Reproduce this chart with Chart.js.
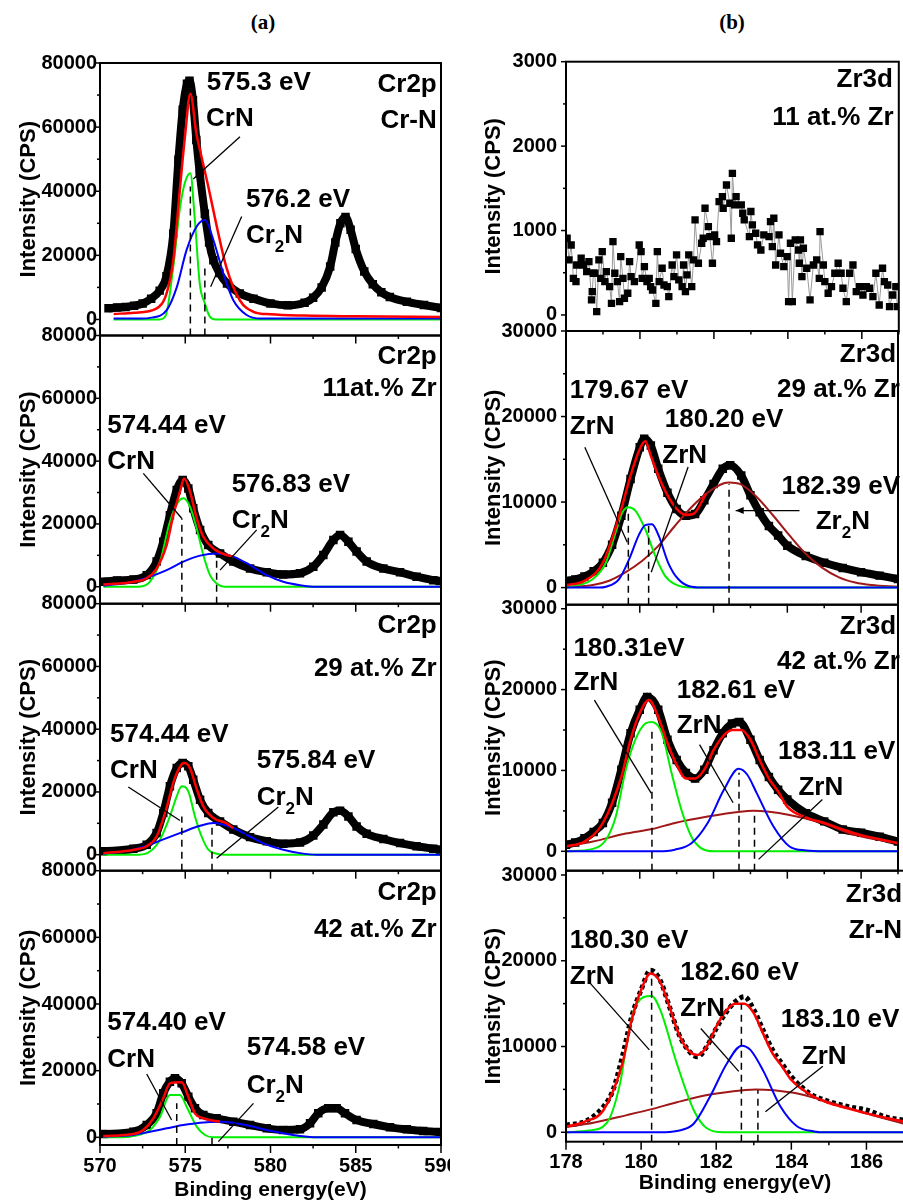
<!DOCTYPE html>
<html lang="en">
<head>
<meta charset="UTF-8">
<title>Cr2p / Zr3d XPS spectra</title>
<script src="https://cdn.jsdelivr.net/npm/chart.js"></script>
<style>
  body { margin: 0; background: #fff; }
  #page { position: relative; width: 903px; height: 1203px; overflow: hidden; background: #fff; }
  canvas { position: absolute; top: 0; }
  .cap { position: absolute; top: 10px; width: 60px; text-align: center; line-height: 26px;
         font: bold 21px "Liberation Serif", "Times New Roman", serif; }
</style>
</head>
<body>
<div id="page">
  <div class="cap" style="left:233px">(a)</div>
  <div class="cap" style="left:702px">(b)</div>
  <canvas id="a1" width="450" height="1203" style="left:0"></canvas>
  <canvas id="a2" width="450" height="1203" style="left:0"></canvas>
  <canvas id="a3" width="450" height="1203" style="left:0"></canvas>
  <canvas id="a4" width="450" height="1203" style="left:0"></canvas>
  <canvas id="b1" width="444" height="1203" style="left:460px"></canvas>
  <canvas id="b2" width="444" height="1203" style="left:460px"></canvas>
  <canvas id="b3" width="444" height="1203" style="left:460px"></canvas>
  <canvas id="b4" width="444" height="1203" style="left:460px"></canvas>
</div>

<script>
// tick labels
const leftXTicks = [570, 575, 580, 585, 590];
const rightXTicks = [178, 180, 182, 184, 186];
const crYTicks = [0, 20000, 40000, 60000, 80000];
const zr1YTicks = [0, 1000, 2000, 3000];
const zrYTicks = [0, 10000, 20000, 30000];

// ---- Cr2p, column (a): [binding energy eV, CPS] ----
const a1Data = [[570.5,3500],[571,3700],[571.5,3900],[572,4300],[572.5,5000],[573,6500],[573.5,9000],[573.9,13500],[574.3,26800],[574.6,49800],[574.85,65400],[575.1,73500],[575.25,74500],[575.45,68500],[575.65,56000],[575.85,45600],[576.15,33000],[576.4,24000],[576.65,18500],[577,14500],[577.45,11200],[578.2,8100],[579,6500],[580,5000],[581,4400],[582,5200],[582.5,6800],[583,10000],[583.5,16500],[583.8,24000],[584.1,30000],[584.4,32000],[584.7,28000],[585,22000],[585.5,15000],[586,11000],[586.5,8500],[587,7000],[588,5500],[589,4500],[590,3600]];
const a1Fit = [[570.8,1700],[572,2100],[573.3,3400],[573.9,8100],[574.3,18500],[574.7,41500],[575,58000],[575.3,70400],[575.65,58100],[575.95,50800],[576.35,41500],[576.85,29000],[577.4,16500],[578.2,6000],[579,2400],[580,1600],[582,1200],[585,1000],[590,800]];
const a1CrN = [[570.8,0],[573.5,0],[573.85,1200],[574.3,16500],[574.7,35200],[575,43000],[575.3,45600],[575.55,32000],[575.85,11200],[576.15,5000],[576.45,800],[576.8,0],[590,0]];
const a1Cr2N = [[570.8,300],[572.5,300],[572.93,500],[573.91,2900],[574.5,10000],[575.08,21700],[575.67,29000],[576.16,31000],[576.65,24800],[577.23,14400],[577.82,6000],[578.6,1400],[579.4,300],[590,300]];

const a2Data = [[570.2,1600],[571,2000],[571.96,2300],[572.74,3700],[573.32,8000],[573.71,14300],[574.1,22800],[574.5,30800],[574.85,34000],[575.18,31300],[575.47,25000],[575.87,18100],[576.35,13300],[577.04,10600],[577.82,8000],[578.8,5800],[579.78,4600],[580.75,3900],[581.73,4300],[582.51,6400],[583.1,10100],[583.69,14900],[584.08,16500],[584.57,14300],[585.05,11200],[585.64,8000],[586.62,5800],[587.6,4600],[588.57,3200],[589.55,2100],[589.94,1800]];
const a2Fit = [[570.2,700],[572,1600],[572.74,2700],[573.32,5800],[573.91,13300],[574.3,22800],[574.69,30300],[574.93,34500],[575.28,30300],[575.67,21800],[576.06,15900],[576.65,12200],[577.43,10100],[577.82,9600]];
const a2CrN = [[570.2,0],[572.3,0],[572.93,1600],[573.52,8000],[574.1,20700],[574.59,27100],[574.89,28200],[575.28,25500],[575.67,18600],[576.06,10100],[576.45,3700],[576.84,1000],[577.3,0],[590,0]];
const a2Cr2N = [[570.2,300],[571.96,1600],[572.93,3200],[573.91,5300],[574.89,8000],[575.87,9900],[576.84,10600],[577.82,9600],[578.8,6900],[579.78,3700],[580.75,1600],[581.73,500],[582.71,0],[590,0]];

const a3Data = [[570.2,1100],[571.96,1900],[572.74,3200],[573.32,6900],[573.71,13300],[574.1,21800],[574.5,27600],[574.85,29200],[575.18,28200],[575.47,23900],[575.87,17500],[576.35,13300],[577.04,10600],[577.82,8000],[578.8,5600],[579.78,4300],[580.75,3500],[581.73,3900],[582.51,6100],[583.1,9600],[583.69,13500],[584.08,14000],[584.57,12200],[585.05,9000],[585.64,6700],[586.62,5000],[587.6,3700],[588.57,2700],[589.55,1900],[589.94,1600]];
const a3Fit = [[570.2,500],[572,1600],[572.74,2700],[573.32,5800],[573.91,15000],[574.3,23000],[574.69,28000],[574.93,29200],[575.28,27600],[575.67,21000],[576.06,15400],[576.65,11700],[577.43,10000],[577.82,8500]];
const a3CrN = [[570.2,0],[572.3,0],[572.93,1000],[573.52,4800],[574.1,12200],[574.5,18600],[574.79,21800],[575.18,20200],[575.57,12200],[575.96,5800],[576.35,1600],[576.84,300],[577.4,0],[590,0]];
const a3Cr2N = [[570.2,300],[571.96,1600],[572.93,3200],[573.91,5300],[574.79,7100],[575.87,9200],[576.65,10100],[577.82,8500],[578.8,5800],[579.78,3200],[580.75,1600],[581.73,500],[582.71,0],[590,0]];

const a4Data = [[570.2,1000],[571.96,1700],[572.74,3700],[573.32,7200],[573.71,13200],[574.1,16700],[574.4,17700],[574.79,16200],[575.18,12200],[575.57,8700],[576.06,6700],[576.84,5700],[577.82,4700],[578.8,3700],[579.78,2700],[580.75,2200],[581.73,2400],[582.32,4200],[582.8,7200],[583.39,8700],[583.88,8700],[584.37,7200],[585.05,5200],[586.03,4000],[587.01,3000],[587.99,2400],[588.96,1900],[589.94,1600]];
const a4Fit = [[570.2,400],[571.96,1000],[572.54,2200],[573.13,5700],[573.71,11700],[574.1,16200],[574.79,16500],[575.18,12200],[575.57,7200],[575.96,5900],[576.65,5000],[577.04,4700]];
const a4CrN = [[570.2,0],[571.3,0],[571.96,400],[572.93,2200],[573.52,6200],[574.1,12700],[574.69,12700],[575.08,9200],[575.67,3200],[576.16,700],[576.65,0],[590,0]];
const a4Cr2N = [[570.2,200],[571.96,700],[572.93,1700],[573.91,2700],[574.89,3700],[575.87,4400],[577.04,4700],[577.82,4400],[578.8,3400],[579.78,2200],[580.75,1200],[581.73,400],[582.71,0],[590,0]];

// ---- Zr3d, column (b) ----
const b1Data = [[178.03,909],[178.08,652],[178.14,829],[178.2,434],[178.27,395],[178.29,592],[178.41,672],[178.47,592],[178.56,513],[178.62,632],[178.69,178],[178.71,276],[178.74,494],[178.78,494],[178.83,40],[178.89,652],[178.94,434],[178.98,750],[179.05,395],[179.09,513],[179.18,336],[179.23,138],[179.27,869],[179.32,494],[179.39,395],[179.45,158],[179.48,691],[179.54,434],[179.58,198],[179.67,257],[179.72,632],[179.76,454],[179.85,395],[179.98,829],[180.03,750],[180.06,434],[180.12,573],[180.19,395],[180.25,434],[180.29,336],[180.34,296],[180.43,138],[180.47,750],[180.52,395],[180.6,553],[180.65,355],[180.74,336],[180.78,217],[180.87,592],[180.92,454],[180.99,711],[181.05,415],[181.14,336],[181.18,592],[181.23,276],[181.27,474],[181.32,711],[181.4,336],[181.45,652],[181.49,1126],[181.58,612],[181.67,849],[181.71,909],[181.76,1264],[181.85,1047],[181.89,928],[181.96,612],[182.02,948],[182.07,869],[182.14,1343],[182.23,1402],[182.25,1264],[182.34,1540],[182.43,1323],[182.47,909],[182.5,1678],[182.56,1304],[182.6,1402],[182.74,1304],[182.78,1205],[182.82,1126],[182.96,928],[183,1225],[183.04,1067],[183.13,968],[183.18,830],[183.27,770],[183.35,948],[183.49,928],[183.53,1106],[183.58,810],[183.62,1146],[183.67,592],[183.76,948],[183.8,731],[183.89,573],[183.98,691],[184.02,158],[184.07,849],[184.12,158],[184.2,889],[184.29,770],[184.31,612],[184.34,889],[184.38,454],[184.42,790],[184.51,553],[184.6,178],[184.69,592],[184.78,652],[184.85,434],[184.87,988],[184.96,592],[185,395],[185.09,257],[185.18,336],[185.27,494],[185.36,612],[185.44,494],[185.49,316],[185.58,158],[185.67,494],[185.76,592],[185.85,276],[185.94,336],[186.03,237],[186.12,336],[186.21,316],[186.3,217],[186.38,494],[186.47,118],[186.56,553],[186.61,395],[186.7,355],[186.75,99],[186.83,237],[186.92,336],[186.96,99]];

const b2Data = [[178,780],[178.25,950],[178.5,1300],[178.75,1900],[179,2900],[179.25,5000],[179.5,8400],[179.75,12700],[180,16400],[180.12,17400],[180.3,16600],[180.5,13900],[180.75,11100],[181,9200],[181.25,8400],[181.5,8600],[181.75,10200],[182,12100],[182.25,13900],[182.45,14300],[182.75,13100],[183,10800],[183.25,8800],[183.5,7200],[183.75,6100],[184,4900],[184.5,3700],[185,2900],[185.5,2300],[186,1800],[186.5,1400],[187,1000]];
const b2Fit = [[178,270],[178.5,780],[179,2900],[179.5,9200],[179.75,13100],[180,16200],[180.15,17100],[180.3,15400],[180.5,13100],[180.75,10800],[181,9200],[181.25,8500],[181.45,8600],[181.8,11000]];
const b2ZrN = [[178,0],[178.11,100],[178.73,1000],[179.08,2900],[179.35,6500],[179.53,8800],[179.69,9400],[179.88,9000],[180.15,6800],[180.42,3700],[180.68,1400],[180.95,400],[181.4,0],[187,0]];
const b2ZrNb = [[178,0],[178.9,0],[179.08,100],[179.44,1000],[179.71,3300],[179.97,6100],[180.15,7300],[180.33,7400],[180.51,6100],[180.77,2900],[181.04,1000],[181.4,100],[181.8,0],[187,0]];
const b2Zr2N = [[178,50],[178.73,300],[179.17,800],[179.62,1800],[180.06,3100],[180.51,4900],[180.95,7200],[181.4,9400],[181.84,11100],[182.28,12200],[182.42,12300],[182.73,12100],[183.17,10600],[183.62,8400],[184.06,6100],[184.51,3900],[184.95,2300],[185.4,1200],[185.84,600],[186.28,300],[187,100]];

const b3Data = [[178,800],[178.25,1100],[178.5,1600],[178.75,2400],[179,3500],[179.25,6000],[179.5,10100],[179.75,14600],[180,17500],[180.2,19100],[180.5,17500],[180.75,13800],[181,11300],[181.25,9700],[181.5,9000],[181.75,10100],[182,12500],[182.25,14600],[182.5,15800],[182.7,16000],[183,13800],[183.25,11300],[183.5,9200],[183.75,7600],[184,6400],[184.5,4700],[185,3700],[185.5,2700],[186,2300],[186.5,1800],[187,1200]];
const b3Fit = [[178,600],[178.5,1200],[179,3500],[179.5,9200],[179.75,13800],[180,17100],[180.25,18700],[180.5,16600],[180.75,13400],[181,10700],[181.25,9000],[181.5,9000],[181.75,10100],[182,12500],[182.25,14200],[182.5,15000],[182.75,15000],[183,13800],[183.25,11300],[183.5,9000],[183.75,7400],[184,5500],[184.5,4200],[185,3500],[185.5,2700],[186,2000],[186.5,1500],[187,1000]];
const b3ZrN = [[178,0],[178.73,300],[179.08,1400],[179.35,4300],[179.62,10100],[179.88,13800],[180.15,15800],[180.33,16000],[180.6,14600],[180.86,9700],[181.13,5100],[181.4,1800],[181.66,400],[182.02,0],[187,0]];
const b3ZrNb = [[178,0],[180.5,0],[180.95,200],[181.4,1000],[181.84,3500],[182.28,7600],[182.68,10200],[182.91,9500],[183.17,7200],[183.62,3100],[184.06,600],[184.51,100],[185,0],[187,0]];
const b3ZrNc = [[178,600],[178.73,1200],[179.62,2200],[180.33,2750],[180.95,3500],[181.84,4300],[182.73,4900],[183.08,5000],[184.06,4500],[184.95,3500],[185.84,2000],[187,1000]];

const b4Data = [[178,850],[178.5,1250],[179,3000],[179.25,4900],[179.5,8800],[179.75,13500],[180,16600],[180.25,18900],[180.5,17800],[180.75,14700],[181,11500],[181.25,9600],[181.5,8800],[181.75,10000],[182,12100],[182.25,13900],[182.5,15200],[182.75,15800],[183,14300],[183.25,11900],[183.5,9600],[183.75,8000],[184,6500],[184.5,4500],[185,3600],[185.5,3000],[186,2600],[186.5,1800],[187,1400]];
const b4Fit = [[178,650],[178.5,1250],[179,2600],[179.5,8000],[179.75,13100],[180,16600],[180.25,18500],[180.5,17600],[180.75,14700],[181,11500],[181.25,9600],[181.5,9000],[181.75,10000],[182,12300],[182.25,14100],[182.5,15000],[182.75,15000],[183,13900],[183.25,11500],[183.5,9200],[183.75,7700],[184,6100],[184.5,4400],[185,3400],[185.5,2800],[186,2200],[186.5,1700],[187,1250]];
const b4ZrN = [[178,0],[178.6,200],[179.08,1050],[179.44,5700],[179.62,10400],[179.84,14650],[180.28,15900],[180.51,14260],[180.95,8040],[181.4,2600],[181.75,470],[182.2,0],[187,0]];
const b4ZrNb = [[178,0],[180.5,0],[180.95,150],[181.4,1000],[181.84,4200],[182.28,8000],[182.68,10100],[182.91,9600],[183.26,7100],[183.71,3000],[184.15,700],[184.6,100],[184.95,0],[187,0]];
const b4ZrNc = [[178,600],[178.73,1100],[179.62,2000],[180.28,2700],[180.95,3500],[181.84,4400],[182.73,4900],[183.04,5000],[184.06,4600],[184.95,3600],[185.84,2400],[187,1000]];

// annotations in data coordinates: [text, eV, CPS, align]  ("_2" = subscript 2)
const a1Notes = [['575.3 eV',576.26,71500,'left'],['CrN',576.22,60200,'left'],['576.2 eV',578.56,35200,'left'],['Cr_2N',578.56,24000,'left'],['Cr2p',589.75,71100,'right'],['Cr-N',589.75,59700,'right']];
const a2Notes = [['Cr2p',589.75,70900,'right'],['11at.% Zr',589.75,60600,'right'],['574.44 eV',570.43,48900,'left'],['CrN',570.43,37500,'left'],['576.83 eV',577.72,30300,'left'],['Cr_2N',577.72,18800,'left']];
const a3Notes = [['Cr2p',589.75,70700,'right'],['29 at.% Zr',589.75,56900,'right'],['574.44 eV',570.59,35800,'left'],['CrN',570.59,24400,'left'],['575.84 eV',579.19,27600,'left'],['Cr_2N',579.19,15900,'left']];
const a4Notes = [['Cr2p',589.75,71200,'right'],['42 at.% Zr',589.75,60000,'right'],['574.40 eV',570.43,32200,'left'],['CrN',570.43,21000,'left'],['574.58 eV',578.6,24700,'left'],['Cr_2N',578.6,13400,'left']];
const b1Notes = [['Zr3d',186.84,2700,'right'],['11 at.% Zr',186.86,2250,'right']];
const b2Notes = [['Zr3d',186.95,26400,'right'],['29 at.% Zr',187.05,22300,'right'],['179.67 eV',178.1,22200,'left'],['ZrN',178.1,18000,'left'],['180.20 eV',180.68,18800,'left'],['ZrN',180.61,14600,'left'],['182.39 eV',183.84,10950,'left'],['Zr_2N',184.77,6800,'left']];
const b3Notes = [['Zr3d',186.95,26900,'right'],['42 at.% Zr',187.05,22500,'right'],['180.31eV',178.2,24100,'left'],['ZrN',178.2,19900,'left'],['182.61 eV',181.0,18900,'left'],['ZrN',181.0,14600,'left'],['183.11 eV',183.75,11400,'left'],['ZrN',184.3,7000,'left']];
const b4Notes = [['Zr3d',186.95,26900,'right'],['Zr-N',186.95,22600,'right'],['180.30 eV',178.1,21500,'left'],['ZrN',178.1,17300,'left'],['182.60 eV',181.04,17800,'left'],['ZrN',181.04,13500,'left'],['183.10 eV',183.72,12300,'left'],['ZrN',184.28,8000,'left']];

// leader lines [eV1, CPS1, eV2, CPS2] and dashed peak markers [eV, top CPS]
const a1Leaders = [[578.21,57000,575.47,43800],[578.31,32100,576.49,10200]];
const a2Leaders = [[572.54,36100,574.79,21800],[579.19,18100,577.04,5300]];
const a3Leaders = [[571.66,21600,574.69,10900],[580.46,15200,576.84,-1100]];
const a4Leaders = [[572.74,19000,574.2,5200],[579,10200,576.94,-1300]];
const b2Leaders = [[178.51,16400,179.66,5300],[181.31,14100,180.31,1800]];
const b3Leaders = [[178.77,18700,180.31,7200],[181.62,13200,182.53,6000],[184.95,6400,183.22,-1000]];
const b4Leaders = [[178.6,17600,180.22,9600],[181.59,12100,182.6,7100],[184.84,7700,183.31,2400]];
const b2Arrows = [[184.33,9000,182.6,9000]];
const a1Drops = [[575.3,41500],[576.15,16500]];
const a2Drops = [[574.8,21800],[576.84,10100]];
const a3Drops = [[574.8,12200],[576.57,9000]];
const a4Drops = [[574.5,10200],[576.57,700]];
const b2Drops = [[179.69,8800],[180.24,7200],[182.42,12100]];
const b3Drops = [[180.33,15400],[182.69,9700],[183.11,4700]];
const b4Drops = [[180.28,18100],[182.67,15000],[183.11,4900]];

const FONT = '"Liberation Sans", Arial, Helvetica, sans-serif';
const GREEN = '#00ee00', BLUE = '#0000ff', RED = '#ff0000', BROWN = '#a01818';

const cols = {
  a: { padL: 16, yW: 84, padR: 9, xMin: 570, xMax: 590, xMinor: 2.5, xMajor: 5, xTicks: leftXTicks, yPad: 3, xTitlePad: 0 },
  b: { padL: 21, yW: 85, padR: 0, xMin: 178, xMax: 187, xMinor: 1, xMajor: 2, xTicks: rightXTicks, yPad: 9, xTitlePad: 4 }
};

const panels = [
  { id: 'a1', col: 'a', top: 63, bottom: 335.5, yMin: -5000, yMax: 80000, yTicks: crYTicks, yMinor: 10000, yMajor: 20000,
    data: a1Data, fit: a1Fit, comps: [[a1CrN, GREEN], [a1Cr2N, BLUE]], notes: a1Notes, leaders: a1Leaders, drops: a1Drops },
  { id: 'a2', col: 'a', top: 335.5, bottom: 603.7, yMin: -5400, yMax: 80000, yTicks: crYTicks, yMinor: 10000, yMajor: 20000,
    data: a2Data, fit: a2Fit, comps: [[a2CrN, GREEN], [a2Cr2N, BLUE]], notes: a2Notes, leaders: a2Leaders, drops: a2Drops },
  { id: 'a3', col: 'a', top: 603.7, bottom: 870.7, yMin: -5100, yMax: 80000, yTicks: crYTicks, yMinor: 10000, yMajor: 20000,
    data: a3Data, fit: a3Fit, comps: [[a3CrN, GREEN], [a3Cr2N, BLUE]], notes: a3Notes, leaders: a3Leaders, drops: a3Drops },
  { id: 'a4', col: 'a', top: 870.7, bottom: 1145, yMin: -2300, yMax: 80000, yTicks: crYTicks, yMinor: 10000, yMajor: 20000, last: true,
    data: a4Data, fit: a4Fit, comps: [[a4CrN, GREEN], [a4Cr2N, BLUE]], notes: a4Notes, leaders: a4Leaders, drops: a4Drops },
  { id: 'b1', col: 'b', top: 61.7, bottom: 331, yMin: -190, yMax: 3000, yTicks: zr1YTicks, yMinor: 500, yMajor: 1000, scatter: true,
    data: b1Data, fit: null, comps: [], notes: b1Notes, leaders: [], drops: [] },
  { id: 'b2', col: 'b', top: 331, bottom: 604.7, yMin: -2000, yMax: 30000, yTicks: zrYTicks, yMinor: 5000, yMajor: 10000,
    data: b2Data, fit: b2Fit, comps: [[b2Zr2N, BROWN], [b2ZrN, GREEN], [b2ZrNb, BLUE]], notes: b2Notes, leaders: b2Leaders, drops: b2Drops, arrows: b2Arrows },
  { id: 'b3', col: 'b', top: 604.7, bottom: 870.7, yMin: -2400, yMax: 30500, yTicks: zrYTicks, yMinor: 5000, yMajor: 10000,
    data: b3Data, fit: b3Fit, comps: [[b3ZrNc, BROWN], [b3ZrN, GREEN], [b3ZrNb, BLUE]], notes: b3Notes, leaders: b3Leaders, drops: b3Drops },
  { id: 'b4', col: 'b', top: 870.7, bottom: 1141.7, yMin: -1100, yMax: 30500, yTicks: zrYTicks, yMinor: 5000, yMajor: 10000, last: true, dotted: true,
    data: b4Data, fit: b4Fit, comps: [[b4ZrNc, BROWN], [b4ZrN, GREEN], [b4ZrNb, BLUE]], notes: b4Notes, leaders: b4Leaders, drops: b4Drops }
];

const XAXIS_H = 58;
const pts = arr => arr.map(([x, y]) => ({ x, y }));

function drawNote(ctx, text, x, y, align) {
  const big = 'bold 26px ' + FONT, small = 'bold 17px ' + FONT;
  const parts = text.split('_2');
  let total = 0;
  parts.forEach((p, i) => {
    ctx.font = big; total += ctx.measureText(p).width;
    if (i < parts.length - 1) { ctx.font = small; total += ctx.measureText('2').width; }
  });
  let cx = align === 'right' ? x - total : x;
  ctx.textAlign = 'left';
  ctx.textBaseline = 'alphabetic';
  parts.forEach((p, i) => {
    ctx.font = big; ctx.fillText(p, cx, y); cx += ctx.measureText(p).width;
    if (i < parts.length - 1) { ctx.font = small; ctx.fillText('2', cx, y + 9); cx += ctx.measureText('2').width; }
  });
}

function decor(p, col) {
  return {
    id: 'decor',
    afterDraw(chart) {
      const { ctx, chartArea: a, scales: { x, y } } = chart;
      ctx.save();
      ctx.strokeStyle = '#000';
      ctx.fillStyle = '#000';
      // dashed peak markers
      ctx.lineWidth = 1.5;
      ctx.setLineDash([7, 5]);
      p.drops.forEach(([e, v]) => {
        const px = x.getPixelForValue(e);
        ctx.beginPath(); ctx.moveTo(px, a.bottom); ctx.lineTo(px, y.getPixelForValue(v)); ctx.stroke();
      });
      ctx.setLineDash([]);
      // leader lines
      ctx.lineWidth = 1.3;
      p.leaders.forEach(([e1, v1, e2, v2]) => {
        ctx.beginPath();
        ctx.moveTo(x.getPixelForValue(e1), y.getPixelForValue(v1));
        ctx.lineTo(x.getPixelForValue(e2), y.getPixelForValue(v2));
        ctx.stroke();
      });
      (p.arrows || []).forEach(([e1, v1, e2, v2]) => {
        const x1 = x.getPixelForValue(e1), y1 = y.getPixelForValue(v1);
        const x2 = x.getPixelForValue(e2), y2 = y.getPixelForValue(v2);
        ctx.beginPath(); ctx.moveTo(x1, y1); ctx.lineTo(x2, y2); ctx.stroke();
        ctx.beginPath(); ctx.moveTo(x2, y2); ctx.lineTo(x2 + 8, y2 - 3.5); ctx.lineTo(x2 + 8, y2 + 3.5); ctx.closePath(); ctx.fill();
      });
      // frame
      ctx.lineWidth = 2;
      ctx.strokeRect(a.left, a.top, a.right - a.left, a.bottom - a.top);
      // y ticks (outward, left)
      ctx.lineWidth = 1.5;
      for (let v = Math.ceil(p.yMin / p.yMinor) * p.yMinor; v <= p.yMax + 1e-6; v += p.yMinor) {
        const py = y.getPixelForValue(v);
        const len = Math.abs(v % p.yMajor) < 1e-6 ? 5 : 3;
        ctx.beginPath(); ctx.moveTo(a.left - len, py); ctx.lineTo(a.left, py); ctx.stroke();
      }
      // x ticks (outward, bottom)
      for (let e = col.xMin; e <= col.xMax + 1e-9; e += col.xMinor) {
        const px = x.getPixelForValue(e);
        const r = (e - col.xMin) / col.xMajor;
        const len = Math.abs(r - Math.round(r)) < 1e-6 ? 8 : 3.5;
        ctx.beginPath(); ctx.moveTo(px, a.bottom); ctx.lineTo(px, a.bottom + len); ctx.stroke();
      }
      // text labels
      p.notes.forEach(([t, e, v, al]) => drawNote(ctx, t, x.getPixelForValue(e), y.getPixelForValue(v), al));
      ctx.restore();
    }
  };
}

function datasetsFor(p) {
  const sets = [];
  if (p.scatter) {
    sets.push({ data: pts(p.data), borderColor: '#9a9a9a', borderWidth: 1, tension: 0,
      pointStyle: 'rect', pointRadius: 5.2, pointBackgroundColor: '#000', pointBorderWidth: 0, order: 10 });
  } else if (p.dotted) {
    sets.push({ data: pts(p.data), borderColor: '#000', borderWidth: 5, borderDash: [4, 3],
      cubicInterpolationMode: 'monotone', pointRadius: 0, order: 10 });
  } else {
    sets.push({ data: pts(p.data), borderColor: '#000', borderWidth: 8, cubicInterpolationMode: 'monotone',
      pointStyle: 'rect', pointRadius: 6, pointBackgroundColor: '#000', pointBorderWidth: 0, order: 10 });
  }
  p.comps.forEach(([arr, c], i) => {
    sets.push({ data: pts(arr), borderColor: c, borderWidth: 2, cubicInterpolationMode: 'monotone', pointRadius: 0, order: 6 - i });
  });
  if (p.fit) {
    sets.push({ data: pts(p.fit), borderColor: RED, borderWidth: 2.5, cubicInterpolationMode: 'monotone', pointRadius: 0, order: 1 });
  }
  return sets;
}

panels.forEach(p => {
  const col = cols[p.col];
  const H = 1203;
  const xH = p.last ? XAXIS_H : 0;
  new Chart(document.getElementById(p.id), {
    type: 'line',
    data: { datasets: datasetsFor(p) },
    options: {
      responsive: false,
      animation: false,
      devicePixelRatio: 1,
      layout: { padding: { left: col.padL, right: col.padR, top: p.top, bottom: H - p.bottom - xH } },
      plugins: { legend: { display: false }, tooltip: { enabled: false } },
      scales: {
        x: {
          type: 'linear', min: col.xMin, max: col.xMax, display: !!p.last,
          grid: { display: false, drawTicks: false }, border: { display: false },
          afterBuildTicks: s => { s.ticks = col.xTicks.map(v => ({ value: v })); },
          afterFit: s => { s.height = xH; s.paddingLeft = 0; s.paddingRight = 0; },
          ticks: { color: '#000', padding: 9, maxRotation: 0, autoSkip: false,
                   font: { family: FONT, size: 20, weight: 'bold' }, callback: v => String(v) },
          title: { display: true, text: 'Binding energy(eV)', color: '#000',
                   font: { family: FONT, size: 21, weight: 'bold' }, padding: { top: 0, bottom: col.xTitlePad } }
        },
        y: {
          type: 'linear', min: p.yMin, max: p.yMax,
          grid: { display: false, drawTicks: false }, border: { display: false },
          afterBuildTicks: s => { s.ticks = p.yTicks.map(v => ({ value: v })); },
          afterFit: s => { s.width = col.yW; s.paddingTop = 0; s.paddingBottom = 0; },
          ticks: { color: '#000', padding: col.yPad, autoSkip: false,
                   font: { family: FONT, size: 20, weight: 'bold' }, callback: v => String(v) },
          title: { display: true, text: 'Intensity (CPS)', color: '#000',
                   font: { family: FONT, size: 22, weight: 'bold' }, padding: 0 }
        }
      }
    },
    plugins: [decor(p, col)]
  });
});
</script>
</body>
</html>
